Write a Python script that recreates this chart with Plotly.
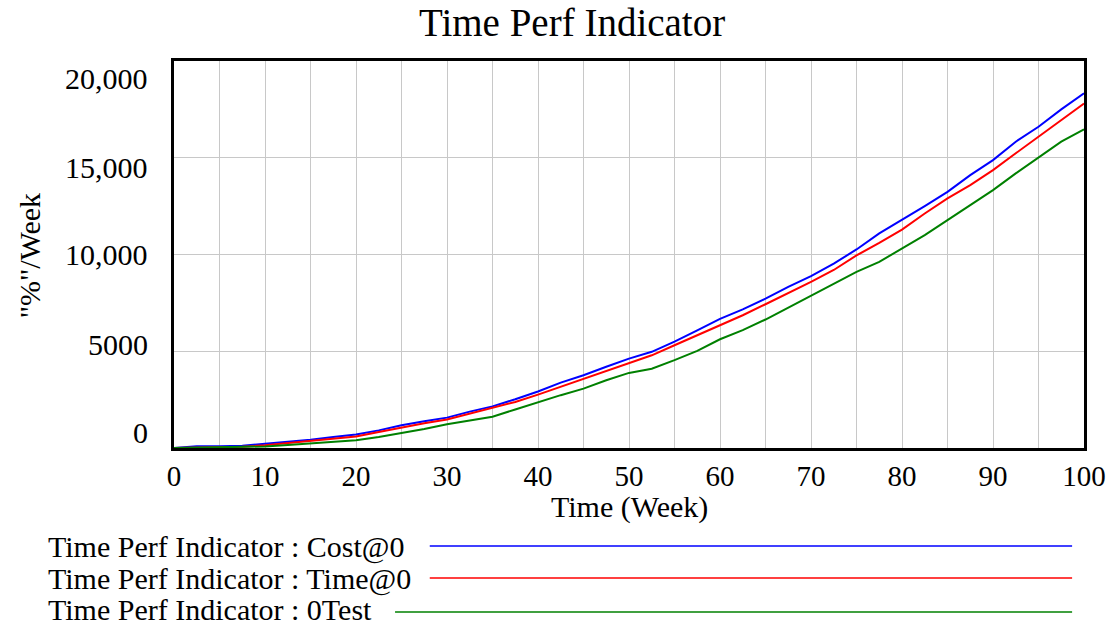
import plotly.graph_objects as go

# Simulation output, sampled every 2.5 weeks
weeks = [i * 2.5 for i in range(41)]

cost_at_0 = [0, 90, 90, 120, 220, 320, 430, 570, 700, 910, 1180, 1380, 1570, 1880,
             2150, 2520, 2920, 3380, 3760, 4200, 4620, 4970, 5500, 6080, 6670, 7160,
             7720, 8330, 8880, 9530, 10260, 11090, 11780, 12500, 13240, 14100, 14880,
             15830, 16600, 17500, 18330]

time_at_0 = [0, 30, 40, 60, 140, 250, 360, 480, 600, 830, 1070, 1280, 1470, 1780,
             2060, 2380, 2760, 3160, 3580, 3980, 4380, 4790, 5310, 5830, 6330, 6860,
             7430, 7990, 8590, 9200, 9950, 10600, 11290, 12120, 12900, 13590, 14360,
             15230, 16090, 16980, 17800]

test_0 = [0, 20, 30, 50, 80, 150, 240, 320, 400, 570, 780, 980, 1230, 1430,
          1620, 1990, 2380, 2730, 3070, 3500, 3880, 4100, 4540, 5020, 5620, 6090,
          6640, 7260, 7900, 8500, 9100, 9620, 10310, 11000, 11780, 12560, 13330,
          14190, 15020, 15830, 16470]

series_names = ["Time Perf Indicator : Cost@0",
                "Time Perf Indicator : Time@0",
                "Time Perf Indicator : 0Test"]
series_colors = ["#0000ff", "#ff0000", "#008000"]

y_tick_values = [0, 5000, 10000, 15000, 20000]
y_tick_text = ["0", "5000", "10,000", "15,000", "20,000"]
x_tick_values = list(range(0, 101, 10))

W, H = 1118, 627
L, R, T, B = 174, 26, 61, 179
PW, PH = W - L - R, H - T - B
FONT = "Liberation Serif, Times New Roman, serif"
FS = 30


def px(x):
    return (x - L) / PW


def py(y):
    return (H - B - y) / PH


fig = go.Figure()
for vals, name, color in zip([cost_at_0, time_at_0, test_0], series_names, series_colors):
    fig.add_trace(go.Scatter(x=weeks, y=vals, mode="lines", name=name,
                             line=dict(color=color, width=2), showlegend=False))

fig.update_layout(
    width=W, height=H,
    margin=dict(l=L, r=R, t=T, b=B),
    paper_bgcolor="white", plot_bgcolor="white",
    font=dict(family=FONT, color="black", size=FS),
)

fig.update_xaxes(
    range=[0, 100], tickvals=x_tick_values, ticks="",
    tickfont=dict(size=29, family=FONT),
    showgrid=True, gridcolor="#c8c8c8", gridwidth=1,
    minor=dict(dtick=5, showgrid=True, gridcolor="#c8c8c8", gridwidth=1),
    showline=True, linecolor="black", linewidth=3, mirror=True,
    zeroline=False,
)
fig.update_yaxes(
    range=[0, 20000], tickvals=y_tick_values, showticklabels=False, ticks="",
    showgrid=True, gridcolor="#c8c8c8", gridwidth=1,
    showline=True, linecolor="black", linewidth=3, mirror=True,
    zeroline=False,
)

# y tick labels, spread evenly between top and bottom as in the source tool
label_shift = {0: 16, 5000: 7, 10000: 0, 15000: -10, 20000: -17}
for v, t in zip(y_tick_values, y_tick_text):
    fig.add_annotation(x=0, xref="paper", xshift=-24, xanchor="right",
                       y=v, yref="y", yshift=label_shift[v], yanchor="middle",
                       text=t, showarrow=False, font=dict(size=FS, family=FONT))

# Title and axis titles
fig.add_annotation(x=px(575), y=py(23), xref="paper", yref="paper",
                   text="Time Perf Indicator", showarrow=False,
                   xanchor="center", yanchor="middle", borderpad=0,
                   font=dict(size=39, family=FONT))
fig.add_annotation(x=px(633), y=py(507), xref="paper", yref="paper",
                   text="Time (Week)", showarrow=False,
                   xanchor="center", yanchor="middle", borderpad=0,
                   font=dict(size=FS, family=FONT))
fig.add_annotation(x=px(28), y=py(256), xref="paper", yref="paper",
                   text='"%"/Week', showarrow=False, textangle=-90,
                   xanchor="center", yanchor="middle",
                   font=dict(size=FS, family=FONT))

# Legend rows: label text followed by a line sample
legend_rows = [(547, 546, 432), (579, 578, 432), (609, 612, 397)]
for (ty, ly, lx0), name, color in zip(legend_rows, series_names, series_colors):
    fig.add_annotation(x=px(46), y=py(ty), xref="paper", yref="paper",
                       text=name, showarrow=False, xanchor="left", yanchor="middle",
                       borderpad=0, font=dict(size=FS, family=FONT))
    fig.add_shape(type="line", xref="paper", yref="paper",
                  x0=px(lx0), x1=px(1080), y0=py(ly), y1=py(ly),
                  line=dict(color=color, width=1.5))

fig.write_html("out.html")
